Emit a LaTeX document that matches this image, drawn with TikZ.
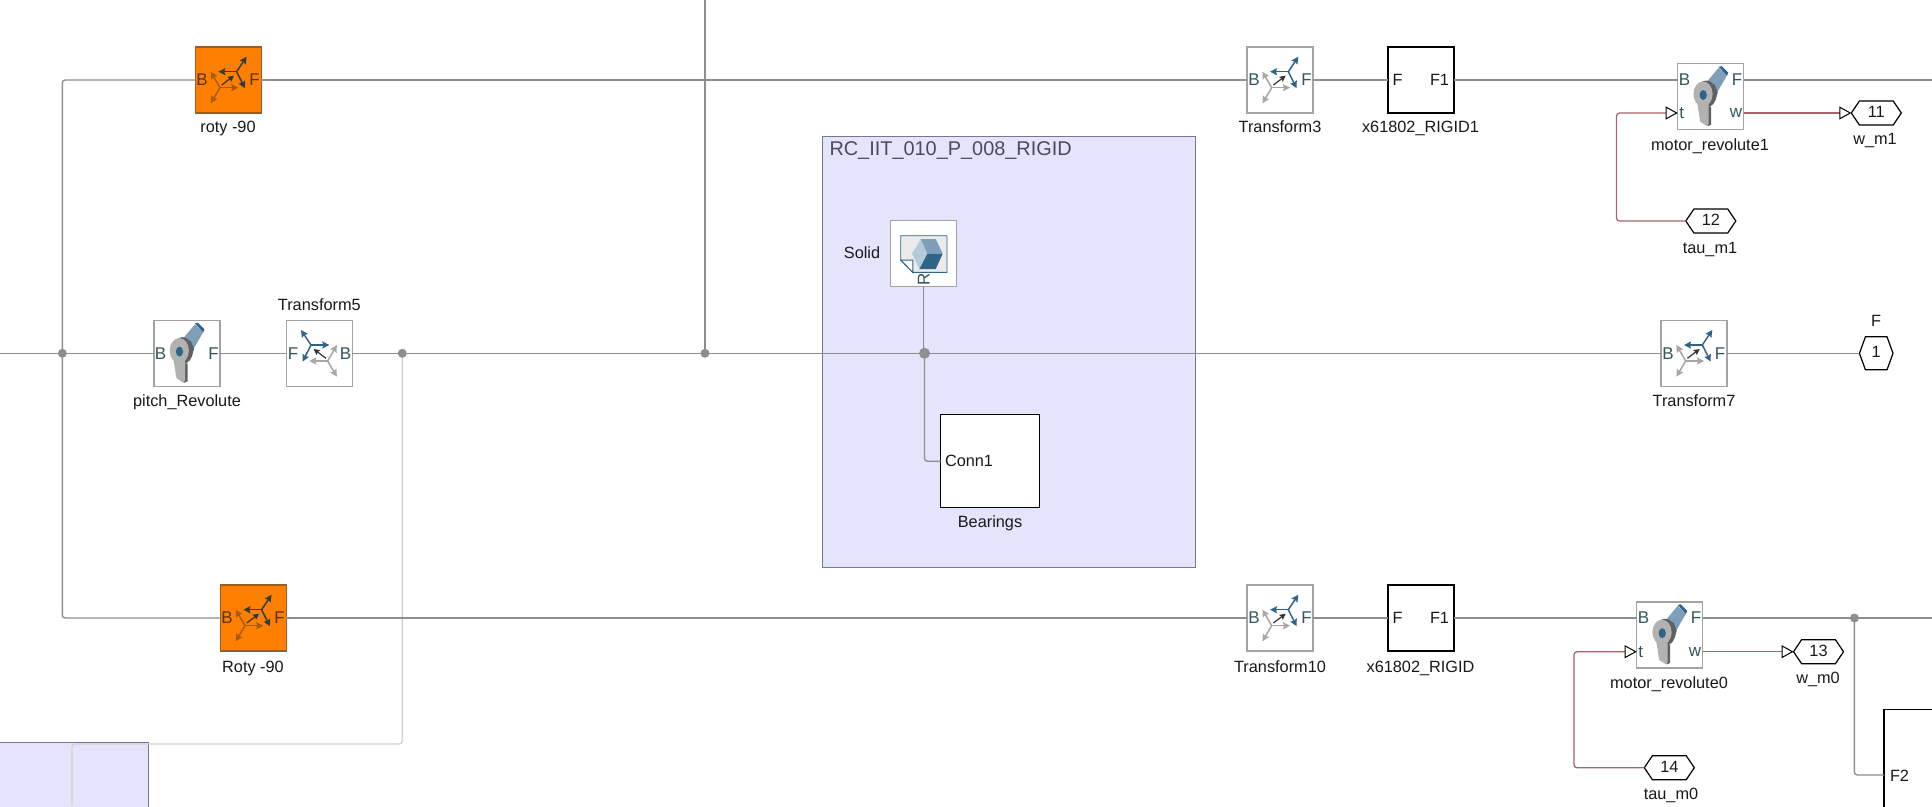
\documentclass[tikz,border=0pt]{standalone}
\usepackage{fontspec}
\setmainfont{Liberation Sans}
\usetikzlibrary{arrows.meta,shapes.symbols}
\definecolor{wiregray}{HTML}{8E8E8E}
\definecolor{wirelight}{HTML}{D2D2D2}
\definecolor{wirered}{HTML}{A86468}
\definecolor{blockgray}{HTML}{A3A3A3}
\definecolor{annofill}{HTML}{E4E4FC}
\definecolor{annoedge}{HTML}{77778A}
\definecolor{annotext}{HTML}{4B4B5C}
\definecolor{smblue}{HTML}{2F6489}
\definecolor{smmid}{HTML}{7F9FB8}
\definecolor{smlight}{HTML}{B5CBD8}
\definecolor{smteal}{HTML}{34555C}
\definecolor{smframe}{HTML}{A6A6A6}
\definecolor{orfill}{HTML}{FF8000}
\definecolor{oredge}{HTML}{9C5C22}
\definecolor{ordark}{HTML}{2F3F3F}
\definecolor{orlite}{HTML}{A85A10}
\definecolor{ortext}{HTML}{5A3200}
\tikzset{
  x=1pt,y=-1pt,
  every node/.style={inner sep=0pt,outer sep=0pt,font=\fontsize{16.3}{18}\selectfont,text=black!90},
  lab/.style={text height=12pt,text depth=4pt,yshift=-1.8pt},
  portlbl/.style={text=smteal,font=\fontsize{17}{18}\selectfont},
  orlbl/.style={text=ortext,font=\fontsize{17}{18}\selectfont},
  smblock/.style={draw=blockgray,line width=1.4pt,fill=white,minimum width=66pt,minimum height=66pt},
  orblock/.style={draw=oredge,line width=1.4pt,fill=orfill,minimum width=66pt,minimum height=66pt},
  subblock/.style={draw=black,line width=1.4pt,fill=white,minimum width=66pt,minimum height=66pt},
  wire/.style={draw=wiregray,line width=1.4pt,rounded corners=3pt},
  faintwire/.style={draw=wirelight,line width=1.4pt,rounded corners=3pt},
  sigwire/.style={draw=wirered,line width=1.3pt,rounded corners=3pt},
  sigarrow/.style={sigwire,-{Triangle[open,fill=white,color=black,length=12pt,width=13pt,line width=1pt]}},
  dot/.style={circle,fill=wiregray,minimum size=9pt},
  hexport/.style={shape=signal,signal to=west and east,draw=black,line width=1.2pt,fill=white,minimum width=50pt,minimum height=24pt,signal pointer angle=112,text height=12pt,text depth=3pt},
  annot/.style={draw=annoedge,line width=1.2pt,fill=annofill},
  arrowtip/.style={-{Stealth[length=7pt,width=7pt,inset=1pt]},line width=1.5pt},
  pics/frameicon/.style 2 args={code={
    \draw[arrowtip,color=#2] (-8.3,7.7)--(-17.6,-8.3);
    \draw[arrowtip,color=#2] (-8.3,7.7)--(10,7.7);
    \draw[arrowtip,color=#2] (-8.3,7.7)--(-17.6,23.3);
    \draw[arrowtip,color=#1] (8.3,-8.3)--(18.3,-23.3);
    \draw[arrowtip,color=#1] (8.3,-8.3)--(-10,-8.3);
    \draw[arrowtip,color=#1] (8.3,-8.3)--(16.7,8.3);
    \draw[-{Stealth[length=6pt,width=6pt,inset=1pt]},line width=1.2pt,color=black!80] (-6.6,5)--(5.7,-4.3);
  }},
  pics/reviconart/.style={code={
    \fill[smmid] (8,-29)--(16.3,-21.3)--(6.3,-4)--(-4,-14.7)--cycle;
    \fill[smblue] (8,-30)--(11,-30.5)--(17.5,-24)--(16.3,-21)--cycle;
    \fill[black!62] (-2.5,10)--(0.5,10)--(0.5,28)--(-3,29.5)--cycle;
    \fill[smblue] (-2,-14)--(4,-12)--(7,-4)--(3,6)--(-2,8)--cycle;
    \fill[black!62] (-4.5,-2.7) ellipse [x radius=10.5,y radius=13.5];
    \fill[black!30] (-14,3)--(-10.5,25)--(-3.7,29.5)--(-2,27)--(-2,6)--cycle;
    \fill[black!30] (-7.7,-2.7) ellipse [x radius=9.6,y radius=12.5];
    \fill[smblue] (-7.5,-1.7) ellipse [x radius=3.6,y radius=5];
  }},
  pics/solidicon/.style={code={
    \filldraw[fill=black!8,draw=smblue,line width=.9pt] (-23,-18)--(23.3,-18)--(23.3,18.7)--(-10.9,18.7)--(-23,6.3)--cycle;
    \filldraw[fill=white,draw=smblue,line width=1pt] (-23,6.3)--(-10.9,6.3)--(-10.9,18.7)--cycle;
    \fill[smlight] (-11.7,0)--(-3,-14.7)--(3.7,0)--(-4.3,15.3)--cycle;
    \fill[smmid] (-3,-14.7)--(12,-14.7)--(19,0)--(3.7,0)--cycle;
    \fill[smblue] (3.7,0)--(19,0)--(12,15.3)--(-4.3,15.3)--cycle;
  }},
}
\begin{document}
\begin{tikzpicture}
\useasboundingbox (0,0) rectangle (1932,806);
\clip (0,0) rectangle (1932,806);
\fill[white] (0,0) rectangle (1932,806);

% annotation areas
\node[annot,anchor=north west,minimum width=372.5pt,minimum height=431pt] (anno) at (822.7,136.2) {};
\node[anchor=west,text=annotext,font=\fontsize{19.9}{22}\selectfont] (annotitle) at (829.5,151) {RC\_IIT\_010\_P\_008\_RIGID};
\node[annot,anchor=north east,minimum width=160pt,minimum height=80pt] (annoB) at (148.5,742.6) {};

% blocks
\node[orblock] (roty) at (228.3,80) {};
\node[orblock] (Roty) at (253.3,618) {};
\node[smblock] (pitch) at (187,353.3) {};
\node[smblock] (tf5) at (319.3,353.3) {};
\node[smblock] (tf3) at (1280,80) {};
\node[subblock] (rig1) at (1420.8,80) {};
\node[smblock] (mot1) at (1710.7,96.7) {};
\node[smblock] (tf7) at (1694,353.3) {};
\node[smblock] (tf10) at (1280,618) {};
\node[subblock] (rig0) at (1420.8,618) {};
\node[smblock] (mot0) at (1669.7,634.9) {};
\node[smblock] (solid) at (923.7,253.7) {};
\node[subblock,minimum width=99pt,minimum height=93pt] (bear) at (990,461.2) {};
\node[subblock,anchor=north west,minimum width=100pt,minimum height=150pt] (fblock) at (1884,709.7) {};

% ports
\node[hexport] (w1) at (1876.3,113) {11};
\node[hexport] (tau1) at (1710.8,221) {12};
\node[hexport] (w0) at (1818.5,651.7) {13};
\node[hexport] (tau0) at (1669.3,767.7) {14};
\node[hexport,minimum width=33.6pt,minimum height=33pt,signal pointer angle=140] (outF) at (1876.2,353.3) {1};

% helper coordinates
\coordinate (leftM) at (0,353.3);
\coordinate (rightT) at (1932,80);
\coordinate (rightB) at (1932,618);
\coordinate (topC) at (705,0);
\coordinate (annoBcorner) at (148.5,744);
\coordinate (bottomF) at (72,806);
\coordinate (mot1B) at (mot1.west |- rig1);
\coordinate (mot1F) at (mot1.east |- rig1);
\coordinate (mot1t) at (1677.7,113);
\coordinate (mot1w) at (1743.7,113);
\coordinate (mot0B) at (mot0.west |- rig0);
\coordinate (mot0F) at (mot0.east |- rig0);
\coordinate (mot0t) at (1636.7,651.7);
\coordinate (mot0w) at (1702.7,651.7);
\coordinate (conn) at (bear.west);

% junctions
\coordinate (jL) at (62.3,353.3);
\coordinate (jT) at (402.3,353.3);
\coordinate (jC) at (705,353.3);
\coordinate (jS) at (924.5,353.3);
\coordinate (jB) at (1854.4,618);

% wires
\draw[faintwire] (jT) |- (annoBcorner);
\draw[faintwire] (annoBcorner) -| (bottomF);
\draw[wire] (leftM) -- (pitch.west);
\draw[wire] (pitch.east) -- (tf5.west);
\draw[wire] (tf5.east) -- (tf7.west);
\draw[wire] (tf7.east) -- (outF.west);
\draw[wire] (jL) |- (roty.west);
\draw[wire] (jL) |- (Roty.west);
\draw[wire] (topC) -- (jC);
\draw[wire] (solid.south) -- (solid.south |- jS);
\draw[wire] (jS) |- (conn);
\draw[wire] (roty.east) -- (tf3.west);
\draw[wire] (tf3.east) -- (rig1.west);
\draw[wire] (rig1.east) -- (mot1B);
\draw[wire] (mot1F) -- (rightT);
\draw[wire] (Roty.east) -- (tf10.west);
\draw[wire] (tf10.east) -- (rig0.west);
\draw[wire] (rig0.east) -- (mot0B);
\draw[wire] (mot0F) -- (rightB);
\draw[wire] (jB) |- (fblock.west |- 0,775);
\draw[sigarrow] (tau1.west) -| (1616.5,170) |- (mot1t);
\draw[sigarrow] (mot1w) -- (w1.west);
\draw[sigarrow] (tau0.west) -| (1574,700) |- (mot0t);
\draw[sigarrow] (mot0w) -- (w0.west);

\node[dot] (dotL) at (jL) {};
\node[dot] (dotT) at (jT) {};
\node[dot] (dotC) at (jC) {};
\node[dot,minimum width=11pt] (dotS) at (jS) {};
\node[dot] (dotB) at (jB) {};

% icons
\pic at (roty) {frameicon={ordark}{orlite}};
\pic at (Roty) {frameicon={ordark}{orlite}};
\pic at (tf3) {frameicon={smblue}{smframe}};
\pic at (tf7) {frameicon={smblue}{smframe}};
\pic at (tf10) {frameicon={smblue}{smframe}};
\pic[xscale=-1] at (tf5) {frameicon={smblue}{smframe}};
\pic at (pitch) {reviconart};
\pic at (mot1) {reviconart};
\pic at (mot0) {reviconart};
\pic at (solid) {solidicon};

% port letters
\node[orlbl] (pa) at (202,80) {B};
\node[orlbl] (pb) at (254.5,80) {F};
\node[orlbl] (pc) at (227,618) {B};
\node[orlbl] (pd) at (279.5,618) {F};
\node[portlbl] (pe) at (160.5,353.3) {B};
\node[portlbl] (pf) at (213.5,353.3) {F};
\node[portlbl] (pg) at (293,353.3) {F};
\node[portlbl] (ph) at (345.5,353.3) {B};
\node[portlbl] (pi) at (1254,80) {B};
\node[portlbl] (pj) at (1306.5,80) {F};
\node[portlbl] (pk) at (1668,353.3) {B};
\node[portlbl] (pl) at (1720,353.3) {F};
\node[portlbl] (pm) at (1254,618) {B};
\node[portlbl] (pn) at (1306.5,618) {F};
\node[portlbl] (po) at (1684.5,80) {B};
\node[portlbl] (pp) at (1737,80) {F};
\node[portlbl] (pq) at (1681.8,113.5) {t};
\node[portlbl] (pr) at (1736,113.5) {w};
\node[portlbl] (ps) at (1643.5,618) {B};
\node[portlbl] (pt) at (1696,618) {F};
\node[portlbl] (pu) at (1640.8,652) {t};
\node[portlbl] (pv) at (1695,652) {w};
\node[portlbl,rotate=90] (pw) at (923.7,279) {R};
\node (px) at (1397.5,80) {F};
\node (py) at (1439.5,80) {F1};
\node (pz) at (1397.5,618) {F};
\node (qa) at (1439.5,618) {F1};
\node[anchor=west] (qb) at (945,461.2) {Conn1};
\node[anchor=west] (qc) at (1890,776) {F2};

% block names
\node[lab] (la) at (228,127) {roty -90};
\node[lab] (lb) at (253,667) {Roty -90};
\node[lab] (lc) at (187,401) {pitch\_Revolute};
\node[lab] (ld) at (319.3,305) {Transform5};
\node[lab] (le) at (1280,127) {Transform3};
\node[lab] (lf) at (1420.5,127) {x61802\_RIGID1};
\node[lab] (lg) at (1710,145) {motor\_revolute1};
\node[lab] (lh) at (1875,139) {w\_m1};
\node[lab] (li) at (1710,248) {tau\_m1};
\node[lab] (lj) at (1694,401) {Transform7};
\node[lab] (lk) at (1876,321) {F};
\node[lab] (ll) at (1280,667) {Transform10};
\node[lab] (lm) at (1420.5,667) {x61802\_RIGID};
\node[lab] (ln) at (1669,683) {motor\_revolute0};
\node[lab] (lo) at (1818,678) {w\_m0};
\node[lab] (lp) at (1671,794) {tau\_m0};
\node[lab] (lq) at (862,253) {Solid};
\node[lab] (lr) at (990,522) {Bearings};
\end{tikzpicture}
\end{document}
